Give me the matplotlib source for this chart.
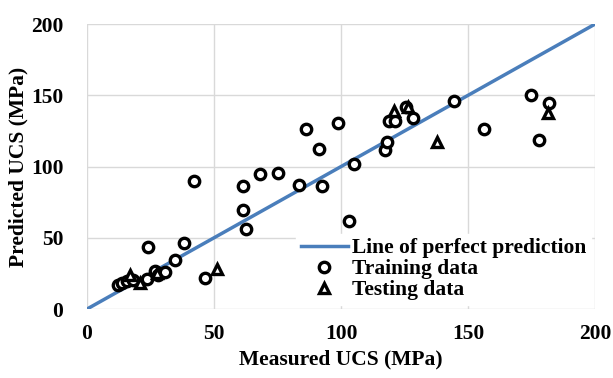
import matplotlib.pyplot as plt
import numpy as np

plt.rcParams['font.family'] = ['Liberation Serif', 'DejaVu Serif']
plt.rcParams['font.weight'] = 'bold'

# Données (MPa)
train_measured = [12.3, 13.7, 15.6, 18.2, 23.5, 24.1, 26.8, 28.1, 30.7, 34.5,
                  38.3, 41.9, 46.6, 61.5, 61.5, 62.6, 68.2, 75.3, 83.5, 86.3,
                  91.2, 92.6, 98.8, 103.0, 105.1, 117.2, 118.1, 119.0, 121.3,
                  125.5, 128.1, 144.6, 156.3, 174.7, 177.8, 182.0]
train_predicted = [16.8, 18.0, 19.6, 20.4, 20.8, 43.3, 26.9, 23.9, 25.7, 34.4,
                   46.5, 89.8, 22.0, 86.3, 69.5, 56.4, 94.7, 95.7, 87.3, 126.1,
                   112.3, 86.6, 130.8, 61.5, 101.8, 111.6, 117.0, 132.1, 131.7,
                   141.5, 133.8, 146.0, 126.5, 150.0, 118.4, 144.3]

test_measured = [16.9, 20.9, 27.5, 51.0, 121.0, 126.2, 137.7, 181.6]
test_predicted = [23.9, 18.0, 25.0, 27.8, 138.9, 142.0, 117.2, 137.3]

perfect = [0, 200]
ticks = [0, 50, 100, 150, 200]

fig = plt.figure(figsize=(6.13, 3.78), dpi=100)
ax = fig.add_axes([0.142, 0.1825, 0.829, 0.754])

ax.plot(perfect, perfect, color='#4a7ebb', lw=2.5, label='Line of perfect prediction', zorder=2)
ax.plot(train_measured, train_predicted, 'o', ms=7.5, mfc='white', mec='black', mew=2.4,
        label='Training data', zorder=3)
ax.plot(test_measured, test_predicted, '^', ms=7.5, mfc='white', mec='black', mew=2.4,
        label='Testing data', zorder=3)

ax.set_xlim(0, 200)
ax.set_ylim(0, 200)
ax.set_xticks(ticks)
ax.set_yticks(ticks)
ax.grid(True, color='#d9d9d9', lw=1)
ax.set_axisbelow(True)
for s in ax.spines.values():
    s.set_visible(False)
ax.tick_params(length=0, labelsize=15.5)
ax.tick_params(axis='x', pad=11)
ax.tick_params(axis='y', pad=17)
ax.set_xlabel('Measured UCS (MPa)', fontsize=15.5, fontweight='bold', labelpad=4)
ax.set_ylabel('Predicted UCS (MPa)', fontsize=15.5, fontweight='bold', labelpad=2)

leg = ax.legend(loc='lower right', bbox_to_anchor=(1.0, 0.0), frameon=True, fontsize=15.5,
                handlelength=2.2, handletextpad=0.2, borderpad=0.2, labelspacing=0.05,
                fancybox=False, framealpha=1, borderaxespad=0.2)
leg.get_frame().set_edgecolor('white')
for t in leg.get_texts():
    t.set_fontweight('bold')

fig.savefig('out.png', dpi=100)
